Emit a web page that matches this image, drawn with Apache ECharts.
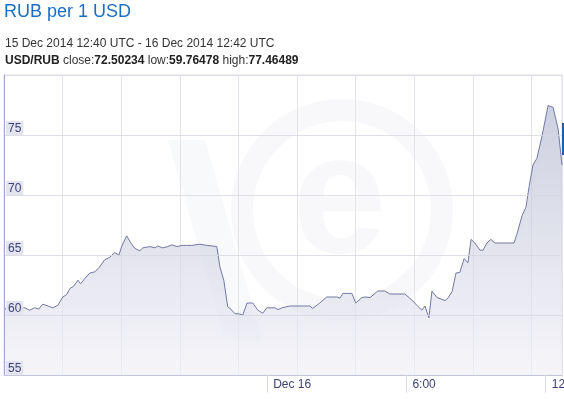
<!DOCTYPE html>
<html><head><meta charset="utf-8">
<script src="https://cdn.jsdelivr.net/npm/echarts@6/dist/echarts.min.js"></script>
<style>html,body{margin:0;padding:0;background:#fff}#c{width:564px;height:399px}</style>
</head><body><div id="c"></div>
<script>
const times = ['15 12:40','15 13:08','15 13:34','15 13:46','15 13:59','15 14:10','15 14:20','15 14:38','15 14:46','15 14:59',
'15 15:12','15 15:22','15 15:30','15 15:40','15 15:51','15 15:58','15 16:09','15 16:22','15 16:35','15 16:47',
'15 17:00','15 17:13','15 17:26','15 17:37','15 17:44','15 17:57','15 18:08','15 18:18','15 18:31','15 18:39',
'15 18:57','15 19:10','15 19:17','15 19:30','15 19:43','15 19:54','15 20:07','15 20:20','15 20:32','15 20:45',
'15 21:06','15 21:24','15 21:40','15 21:50','15 21:58','15 22:08','15 22:18','15 22:29','15 22:37','15 22:47',
'15 22:57','15 23:08','15 23:23','15 23:36','15 23:49','15 23:59','16 00:20','16 00:28','16 00:38','16 00:59',
'16 01:50','16 01:58','16 02:16','16 02:34','16 03:00','16 03:08','16 03:16','16 03:39','16 03:49','16 04:05',
'16 04:13','16 04:26','16 04:46','16 05:04','16 05:17','16 05:56','16 06:14','16 06:30','16 06:40','16 06:48',
'16 06:58','16 07:06','16 07:19','16 07:32','16 07:40','16 07:47','16 07:58','16 08:08','16 08:18','16 08:29',
'16 08:39','16 08:47','16 08:57','16 09:10','16 09:18','16 09:28','16 09:38','16 09:49','16 10:20','16 10:38',
'16 10:46','16 10:59','16 11:09','16 11:17','16 11:27','16 11:37','16 11:50','16 12:06','16 12:19','16 12:32','16 12:42'];
const rates = [60.5,60.6,60.6,60.4,60.6,60.5,60.9,60.7,60.6,60.8,
61.5,61.7,62.2,62.4,62.9,62.6,63.05,63.5,63.6,64.0,
64.6,64.8,65.2,65.0,65.7,66.6,66.0,65.55,65.35,65.6,
65.7,65.6,65.75,65.6,65.7,65.85,65.7,65.8,65.8,65.8,
65.9,65.8,65.75,65.7,64.0,62.9,60.7,60.4,60.1,60.1,
60.0,61.0,61.0,60.4,60.15,60.6,60.6,60.45,60.6,60.75,
60.75,60.55,61.0,61.5,61.5,61.4,61.8,61.8,61.0,61.45,
61.5,61.45,62.0,62.0,61.75,61.75,61.25,60.7,60.4,60.75,
59.76,62.0,61.45,61.3,61.2,61.4,61.95,63.5,63.55,64.7,
64.35,66.3,66.0,65.4,65.4,66.0,66.3,66.0,66.0,66.0,
66.8,68.3,69.0,70.7,72.5,73.05,74.85,77.46,77.3,75.5,72.5];
const yTicks = [55, 60, 65, 70, 75];
const xLabelTimes = ['16 00:00', '16 06:00', '16 12:00'];
const xLabelTexts = ['Dec 16', '6:00', '12:00'];
const startTime = '15 12:40', endTime = '16 12:42';

function toMin(s){const [d,hm]=s.split(' ');const [h,m]=hm.split(':').map(Number);return (Number(d)-15)*1440+h*60+m;}
const xMin = toMin(startTime), xMax = toMin(endTime);
const labelVals = xLabelTimes.map(toMin);
const data = times.map((t,i)=>[toMin(t), rates[i]]);
const FONT = 'Liberation Sans, Arial, sans-serif';

const chart = echarts.init(document.getElementById('c'), null, {renderer:'canvas'});
chart.setOption({
  animation:false,
  backgroundColor:'#fff',
  grid:{left:4, right:2, top:75, bottom:24, show:true, borderColor:'#dcdce6', borderWidth:1,
    containLabel:false, outerBoundsMode:'none'},
  graphic:[
    {type:'text', left:4, top:3, style:{text:'RUB per 1 USD', font:'18px '+FONT, fill:'#1a6fc4'}},
    {type:'text', left:5, top:38, style:{text:'15 Dec 2014 12:40 UTC - 16 Dec 2014 12:42 UTC', font:'12px '+FONT, fill:'#333'}},
    {type:'text', left:5, top:55, style:{
      text:'{b|USD/RUB} close:{b|72.50234} low:{b|59.76478} high:{b|77.46489}',
      font:'12px '+FONT, fill:'#333',
      rich:{b:{fontWeight:'bold', fontSize:12, fontFamily:FONT, fill:'#222'}}}},
    {type:'circle', shape:{cx:342, cy:210, r:100}, z:0, silent:true,
      style:{fill:'none', stroke:'rgba(200,202,220,0.13)', lineWidth:22}},
    {type:'text', x:292, y:120, z:0, silent:true, style:{text:'e', font:'bold 170px '+FONT, fill:'rgba(200,202,220,0.13)'}},
    {type:'polygon', z:0, silent:true, shape:{points:[[168,140],[205,140],[262,340],[225,340]]}, style:{fill:'rgba(200,202,220,0.12)'}},
    {type:'rect', shape:{x:562, y:123, width:3, height:32}, style:{fill:'#1f5fa8'}, z:10}
  ],
  xAxis:[
    {type:'value', min:xMin, max:xMax, z:5,
      axisLine:{show:true, lineStyle:{color:'#c5c7da', width:1}},
      axisTick:{show:true, customValues:labelVals, length:18, lineStyle:{color:'#dadae4'}},
      axisLabel:{show:true, customValues:labelVals, align:'left', padding:[0,0,0,6], margin:4,
        color:'#3d3f73', fontSize:12, fontFamily:FONT, hideOverlap:false,
        formatter:(v)=>{const i=labelVals.indexOf(v);return i>=0?xLabelTexts[i]:'';}},
      splitLine:{show:false}},
    {type:'value', min:0, max:xMax-xMin, interval:151.5, position:'bottom',
      axisLine:{show:false}, axisTick:{show:false}, axisLabel:{show:false},
      splitLine:{show:true, lineStyle:{color:'#e3e3ea', width:1}}}
  ],
  yAxis:{type:'value', min:55, max:80, interval:5, z:5,
    axisLine:{show:true, lineStyle:{color:'#a3a6cc', width:1}},
    axisTick:{show:false},
    axisLabel:{inside:true, verticalAlign:'bottom', margin:2, showMaxLabel:false,
      color:'#3d3f73', fontSize:12, fontFamily:FONT,
      backgroundColor:'#e3e4ef', padding:[2,2,0,2], lineHeight:12,
      formatter:(v)=>yTicks.includes(v)?String(v):''},
    splitLine:{show:true, lineStyle:{color:'rgba(215,215,226,0.8)', width:1}}},
  series:[{type:'line', data:data, xAxisIndex:0, showSymbol:false, symbol:'none',
    lineStyle:{color:'#7378a3', width:1},
    areaStyle:{color:new echarts.graphic.LinearGradient(0,0,0,1,[
      {offset:0, color:'rgba(176,180,206,0.9)'},
      {offset:1, color:'rgba(240,240,246,0.9)'}])},
    z:3}]
});
</script></body></html>
